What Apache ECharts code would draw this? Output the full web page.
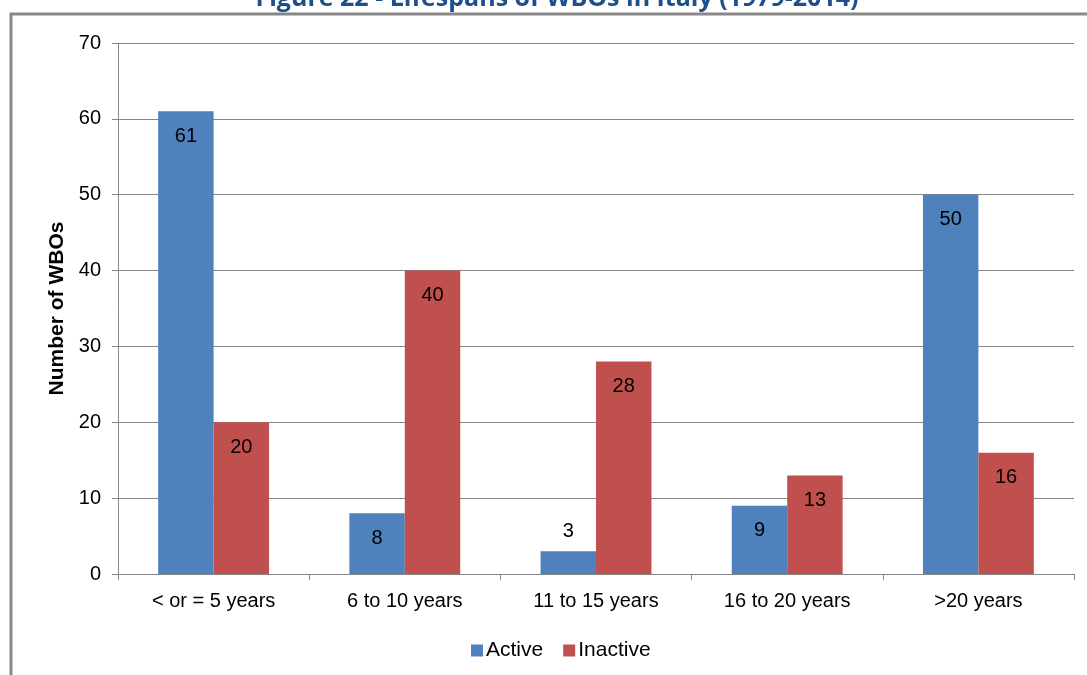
<!DOCTYPE html>
<html>
<head>
<meta charset="utf-8">
<script src="https://cdn.jsdelivr.net/npm/echarts@6/dist/echarts.min.js"></script>
<style>html,body{margin:0;padding:0;background:#fff;}#c{width:1087px;height:675px;}</style>
</head>
<body>
<div id="c"></div>
<script>
var categories = ['< or = 5 years', '6 to 10 years', '11 to 15 years', '16 to 20 years', '>20 years'];
var activeValues = [61, 8, 3, 9, 50];
var inactiveValues = [20, 40, 28, 13, 16];
var yTicks = [0, 10, 20, 30, 40, 50, 60, 70];
var titleText = 'Figure 22 - Lifespans of WBOs in Italy (1979-2014)';
var yAxisTitle = 'Number of WBOs';

var FONT = '"Liberation Sans", Arial, sans-serif';
function toData(vals) {
  return vals.map(function (v) {
    if (v < 5) {
      return { value: v, label: { position: 'top', distance: 10 } };
    }
    return v;
  });
}
var chart = echarts.init(document.getElementById('c'));
chart.setOption({
  animation: false,
  backgroundColor: '#fff',
  graphic: [
    { type: 'rect', shape: { x: 11, y: 14, width: 1200, height: 800 },
      style: { fill: 'none', stroke: '#888888', lineWidth: 3 }, z: 0 },
    { type: 'text', style: { text: titleText, x: 557, y: 11, textAlign: 'center', textVerticalAlign: 'bottom',
      font: 'bold 25px "Open Sans", "Liberation Sans", sans-serif', fill: '#1F4E8C' }, z: 10 }
  ],
  grid: { left: 118, right: 13, top: 43, bottom: 101, containLabel: false },
  legend: {
    data: ['Active', 'Inactive'],
    left: 466, top: 635,
    itemWidth: 12, itemHeight: 12, itemGap: 20,
    icon: 'rect',
    textStyle: { fontFamily: FONT, fontSize: 21, color: '#000', padding: [0, 0, 0, -2] }
  },
  xAxis: {
    type: 'category',
    data: categories,
    axisLine: { lineStyle: { color: '#868686', width: 1 } },
    axisTick: { show: true, alignWithLabel: false, length: 6, lineStyle: { color: '#868686' } },
    axisLabel: { fontFamily: FONT, fontSize: 20, color: '#000', margin: 17 }
  },
  yAxis: {
    type: 'value',
    min: yTicks[0], max: yTicks[yTicks.length - 1], interval: 10,
    name: yAxisTitle,
    nameLocation: 'middle',
    nameGap: 49,
    nameRotate: 90,
    nameTextStyle: { fontFamily: FONT, fontSize: 21, fontWeight: 'bold', color: '#000' },
    axisLine: { show: true, lineStyle: { color: '#868686', width: 1 } },
    axisTick: { show: true, length: 6, lineStyle: { color: '#868686' } },
    axisLabel: { fontFamily: FONT, fontSize: 20, color: '#000', margin: 17 },
    splitLine: { show: true, lineStyle: { color: '#868686', width: 1 } }
  },
  series: [
    { name: 'Active', type: 'bar', data: toData(activeValues),
      itemStyle: { color: '#4F81BD' }, barGap: '0%', barCategoryGap: '42%',
      label: { show: true, position: 'insideTop', distance: 15, fontFamily: FONT, fontSize: 20, color: '#000' } },
    { name: 'Inactive', type: 'bar', data: toData(inactiveValues),
      itemStyle: { color: '#C0504D' }, barGap: '0%', barCategoryGap: '42%',
      label: { show: true, position: 'insideTop', distance: 15, fontFamily: FONT, fontSize: 20, color: '#000' } }
  ]
});
</script>
</body>
</html>
